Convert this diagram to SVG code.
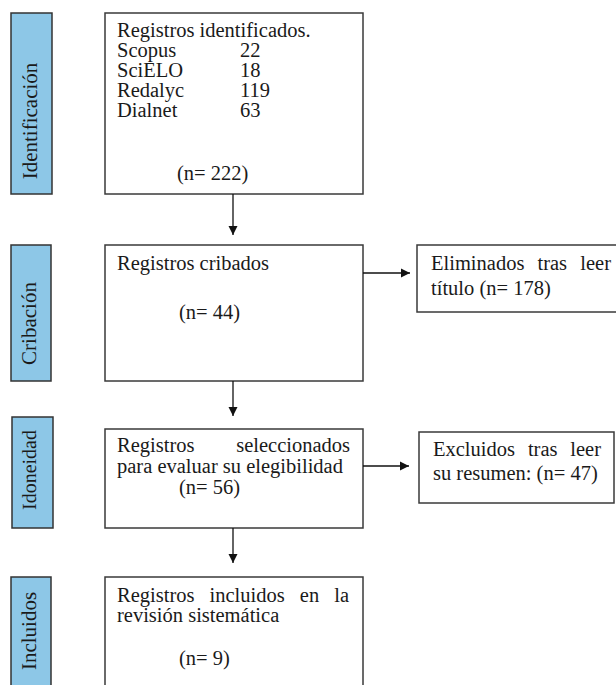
<svg xmlns="http://www.w3.org/2000/svg" width="616" height="685" viewBox="0 0 616 685">
<defs>
<style>
.side{fill:#8dc7e7;stroke:#333;stroke-width:1.5}
.box{fill:#fff;stroke:#3a3a3a;stroke-width:1.5}
.t{font-family:"Liberation Serif","Times New Roman",serif;font-size:20.5px;fill:#1a1a1a}
.st{font-family:"Liberation Serif","Times New Roman",serif;font-size:21px;fill:#1a1a1a;text-rendering:geometricPrecision}
.conn{stroke:#111;stroke-width:1.3;fill:none}
</style>
<marker id="ah" viewBox="0 0 10 10" refX="10" refY="5" markerWidth="9" markerHeight="10" markerUnits="userSpaceOnUse" orient="auto">
<path d="M0,0 L10,5 L0,10 z" fill="#111"/>
</marker>
</defs>
<rect width="616" height="685" fill="#fff"/>

<g id="side-identificacion">
<rect class="side" x="11" y="13" width="41" height="181"/>
<text class="st" transform="translate(36.5,121) rotate(-90)" text-anchor="middle">Identificación</text>
</g>
<g id="side-cribacion">
<rect class="side" x="11" y="245" width="40" height="136"/>
<text class="st" transform="translate(35.7,323.5) rotate(-90)" text-anchor="middle">Cribación</text>
</g>
<g id="side-idoneidad">
<rect class="side" x="12" y="417" width="41" height="111"/>
<text class="st" style="font-size:20px" transform="translate(35.5,470) rotate(-90)" text-anchor="middle">Idoneidad</text>
</g>
<g id="side-incluidos">
<rect class="side" x="11" y="577" width="40" height="115"/>
<text class="st" transform="translate(35.7,631) rotate(-90)" text-anchor="middle">Incluidos</text>
</g>

<g id="node-identificados">
<rect class="box" x="105" y="13" width="258" height="181"/>
<text class="t" x="117" y="37">Registros identificados.</text>
<text class="t" x="117" y="57">Scopus</text><text class="t" x="240" y="57">22</text>
<text class="t" x="117" y="77">SciELO</text><text class="t" x="240" y="77">18</text>
<text class="t" x="117" y="97">Redalyc</text><text class="t" x="240" y="97">119</text>
<text class="t" x="117" y="117">Dialnet</text><text class="t" x="240" y="117">63</text>
<text class="t" x="177" y="180">(n= 222)</text>
</g>

<g id="node-cribados">
<rect class="box" x="105" y="245" width="258" height="136"/>
<text class="t" x="117" y="270">Registros cribados</text>
<text class="t" x="179" y="319">(n= 44)</text>
</g>

<g id="node-eliminados">
<rect class="box" x="417" y="245" width="205" height="67"/>
<text class="t" y="270"><tspan x="431">Eliminados</tspan><tspan x="537.5">tras</tspan><tspan x="580.3">leer</tspan></text>
<text class="t" x="431" y="295">título (n= 178)</text>
</g>

<g id="node-seleccionados">
<rect class="box" x="105" y="429" width="258" height="99"/>
<text class="t" y="452"><tspan x="117">Registros</tspan><tspan x="350" text-anchor="end">seleccionados</tspan></text>
<text class="t" x="117" y="473">para evaluar su elegibilidad</text>
<text class="t" x="179" y="494">(n= 56)</text>
</g>

<g id="node-excluidos">
<rect class="box" x="419" y="432" width="195" height="71"/>
<text class="t" y="456"><tspan x="433">Excluidos</tspan><tspan x="527.9">tras</tspan><tspan x="570.3">leer</tspan></text>
<text class="t" x="433" y="480">su resumen: (n= 47)</text>
</g>

<g id="node-incluidos">
<rect class="box" x="105" y="577" width="258" height="115"/>
<text class="t" y="602"><tspan x="117">Registros</tspan><tspan x="209.5">incluidos</tspan><tspan x="299.8">en</tspan><tspan x="334.2">la</tspan></text>
<text class="t" x="117" y="622">revisión sistemática</text>
<text class="t" x="179" y="665">(n= 9)</text>
</g>

<g id="connectors">
<line class="conn" x1="233" y1="194" x2="233" y2="235" marker-end="url(#ah)"/>
<line class="conn" x1="233" y1="381" x2="233" y2="416" marker-end="url(#ah)"/>
<line class="conn" x1="233" y1="528" x2="233" y2="563" marker-end="url(#ah)"/>
<line class="conn" x1="363" y1="273" x2="410" y2="273" marker-end="url(#ah)"/>
<line class="conn" x1="363" y1="466" x2="409" y2="466" marker-end="url(#ah)"/>
</g>
</svg>
